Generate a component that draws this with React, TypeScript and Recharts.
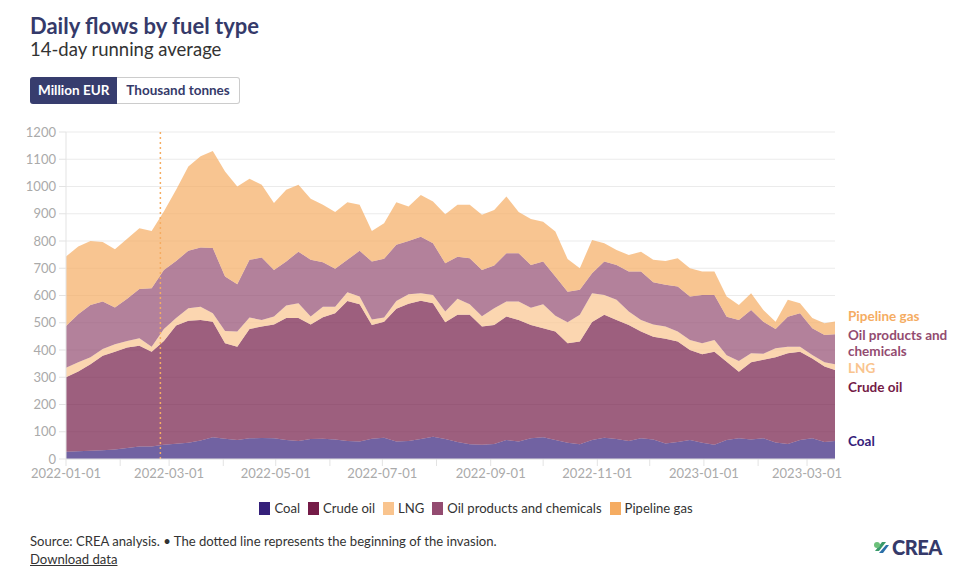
import {
  Area,
  AreaChart,
  CartesianGrid,
  ReferenceLine,
  XAxis,
  YAxis,
} from "recharts";

// weekly samples (million EUR per day, 14-day average)
const dates = [
  "2022-01-01", "2022-01-08", "2022-01-15", "2022-01-22", "2022-01-29", "2022-02-05", "2022-02-12", "2022-02-19",
  "2022-02-26", "2022-03-05", "2022-03-12", "2022-03-19", "2022-03-26", "2022-04-02", "2022-04-09", "2022-04-16",
  "2022-04-23", "2022-04-30", "2022-05-07", "2022-05-14", "2022-05-21", "2022-05-28", "2022-06-04", "2022-06-11",
  "2022-06-18", "2022-06-25", "2022-07-02", "2022-07-09", "2022-07-16", "2022-07-23", "2022-07-30", "2022-08-06",
  "2022-08-13", "2022-08-20", "2022-08-27", "2022-09-03", "2022-09-10", "2022-09-17", "2022-09-24", "2022-10-01",
  "2022-10-08", "2022-10-15", "2022-10-22", "2022-10-29", "2022-11-05", "2022-11-12", "2022-11-19", "2022-11-26",
  "2022-12-03", "2022-12-10", "2022-12-17", "2022-12-24", "2022-12-31", "2023-01-07", "2023-01-14", "2023-01-21",
  "2023-01-28", "2023-02-04", "2023-02-11", "2023-02-18", "2023-02-25", "2023-03-04", "2023-03-11", "2023-03-17",
];

const coal = [
  27, 28, 30, 32, 35, 40, 46, 46, 52, 56, 60, 68, 80, 74, 70, 76,
  77, 76, 70, 66, 73, 74, 72, 66, 64, 74, 78, 64, 66, 73, 82, 73,
  62, 54, 52, 55, 70, 64, 76, 80, 70, 60, 54, 70, 78, 73, 66, 76,
  72, 57, 62, 70, 60, 52, 70, 76, 72, 76, 61, 55, 70, 76, 62, 66,
];
const crudeOil = [
  273, 293, 318, 347, 359, 369, 370, 348, 381, 434, 447, 442, 424, 351, 342, 401,
  409, 418, 447, 451, 421, 446, 463, 514, 504, 418, 426, 487, 504, 508, 490, 429,
  467, 475, 434, 437, 453, 446, 416, 400, 398, 365, 377, 433, 451, 437, 426, 392,
  377, 384, 369, 330, 324, 342, 287, 244, 283, 288, 312, 333, 324, 293, 277, 261,
];
const lng = [
  35, 34, 25, 25, 27, 24, 27, 18, 44, 27, 46, 49, 31, 45, 56, 42,
  24, 29, 46, 55, 29, 39, 24, 32, 28, 20, 15, 29, 35, 27, 30, 39,
  59, 39, 38, 61, 55, 68, 63, 88, 58, 77, 98, 105, 73, 74, 49, 42,
  45, 45, 37, 37, 41, 43, 24, 40, 33, 22, 33, 24, 18, 13, 16, 21,
];
const oilProducts = [
  153, 176, 192, 174, 135, 155, 181, 215, 217, 210, 211, 217, 239, 200, 173, 212,
  229, 171, 162, 189, 208, 163, 139, 119, 168, 213, 216, 206, 195, 208, 190, 177,
  154, 169, 170, 157, 177, 177, 157, 157, 144, 112, 92, 74, 123, 128, 147, 178,
  155, 153, 165, 159, 177, 165, 141, 150, 159, 118, 71, 110, 123, 98, 100, 110,
];
const pipelineGas = [
  255, 249, 235, 218, 214, 220, 223, 210, 214, 261, 309, 335, 356, 385, 359, 297,
  267, 245, 263, 245, 224, 211, 208, 211, 169, 112, 130, 156, 127, 153, 153, 180,
  191, 196, 202, 204, 208, 151, 169, 146, 165, 120, 79, 122, 67, 55, 61, 73,
  82, 88, 104, 104, 86, 86, 74, 55, 61, 43, 27, 62, 37, 37, 43, 47,
];

const monthTicks = [
  "2022-01-01", "2022-02-01", "2022-03-01", "2022-04-01", "2022-05-01", "2022-06-01", "2022-07-01", "2022-08-01",
  "2022-09-01", "2022-10-01", "2022-11-01", "2022-12-01", "2023-01-01", "2023-02-01", "2023-03-01",
];
const labelledTicks = [
  "2022-01-01", "2022-03-01", "2022-05-01", "2022-07-01", "2022-09-01", "2022-11-01", "2023-01-01", "2023-03-01",
];
const yTicks = [0, 100, 200, 300, 400, 500, 600, 700, 800, 900, 1000, 1100, 1200];
const invasionDate = "2022-02-24";

const series = [
  { key: "coal", name: "Coal", color: "#35207a" },
  { key: "crudeOil", name: "Crude oil", color: "#741b47" },
  { key: "lng", name: "LNG", color: "#f9c48e" },
  { key: "oilProducts", name: "Oil products and chemicals", color: "#934b70" },
  { key: "pipelineGas", name: "Pipeline gas", color: "#f5ac62" },
];

const data = dates.map((d, i) => ({
  t: Date.parse(d),
  coal: coal[i],
  crudeOil: crudeOil[i],
  lng: lng[i],
  oilProducts: oilProducts[i],
  pipelineGas: pipelineGas[i],
}));

const FONT = "Lato, 'Source Sans Pro', sans-serif";
const NAVY = "#353a6a";

const fmtDate = (v: number) => {
  const s = new Date(v).toISOString().slice(0, 10);
  return labelledTicks.includes(s) ? s : "";
};

export default function App() {
  return (
    <div
      style={{
        position: "absolute",
        left: 0,
        top: 0,
        width: 960,
        height: 567,
        fontFamily: FONT,
        background: "#fff",
        color: "#333",
      }}
    >
      <div style={{ position: "absolute", left: 30, top: 12, fontSize: 22, fontWeight: 700, color: NAVY }}>
        Daily flows by fuel type
      </div>
      <div style={{ position: "absolute", left: 30, top: 38, fontSize: 18.5, color: "#333" }}>
        14-day running average
      </div>
      <div style={{ position: "absolute", left: 30, top: 77, display: "flex", fontSize: 13.5, fontWeight: 700 }}>
        <div
          style={{
            background: "#373d6e",
            color: "#fff",
            height: 27,
            lineHeight: "27px",
            padding: "0 8px",
            borderRadius: "3px 0 0 3px",
          }}
        >
          Million EUR
        </div>
        <div
          style={{
            color: NAVY,
            height: 25,
            lineHeight: "25px",
            padding: "0 9px",
            border: "1px solid #ccc",
            borderLeft: "none",
            borderRadius: "0 3px 3px 0",
          }}
        >
          Thousand tonnes
        </div>
      </div>

      <div style={{ position: "absolute", left: 0, top: 120 }}>
        <AreaChart width={960} height={380} data={data} margin={{ top: 12, right: 125, left: 0, bottom: 11 }}>
          <CartesianGrid vertical={false} stroke="#ebebeb" />
          <XAxis
            dataKey="t"
            type="number"
            domain={[Date.parse("2022-01-01"), Date.parse("2023-03-17")]}
            ticks={monthTicks.map((m) => Date.parse(m))}
            tickFormatter={fmtDate}
            interval={0}
            height={30}
            tickSize={7}
            tickMargin={3}
            tickLine={{ stroke: "#e3e3e3" }}
            axisLine={{ stroke: "#e3e3e3" }}
            tick={{ fontSize: 13, fill: "#aaa", fontFamily: FONT }}
          />
          <YAxis
            domain={[0, 1200]}
            ticks={yTicks}
            width={66}
            tickSize={7}
            tickMargin={3}
            tickLine={{ stroke: "#e3e3e3" }}
            axisLine={{ stroke: "#e3e3e3" }}
            tick={{ fontSize: 13, fill: "#aaa", fontFamily: FONT }}
          />
          {series.map((s) => (
            <Area
              key={s.key}
              dataKey={s.key}
              name={s.name}
              stackId="fuel"
              type="linear"
              stroke="none"
              fill={s.color}
              fillOpacity={0.7}
              isAnimationActive={false}
            />
          ))}
          <ReferenceLine
            x={Date.parse(invasionDate)}
            stroke="#f5ac62"
            strokeWidth={1.5}
            strokeDasharray="2 3"
          />
        </AreaChart>
      </div>

      {/* end-of-series labels */}
      <div style={{ position: "absolute", left: 848, top: 0, fontSize: 13.5, fontWeight: 700, lineHeight: "16px" }}>
        <div style={{ position: "absolute", top: 308, color: "#f5ac62", whiteSpace: "nowrap" }}>Pipeline gas</div>
        <div style={{ position: "absolute", top: 327, color: "#934b70", whiteSpace: "nowrap" }}>Oil products and</div>
        <div style={{ position: "absolute", top: 343, color: "#934b70", whiteSpace: "nowrap" }}>chemicals</div>
        <div style={{ position: "absolute", top: 360, color: "#f9c48e" }}>LNG</div>
        <div style={{ position: "absolute", top: 379, color: "#741b47", whiteSpace: "nowrap" }}>Crude oil</div>
        <div style={{ position: "absolute", top: 433, color: "#35207a" }}>Coal</div>
      </div>

      <div
        style={{
          position: "absolute",
          left: 0,
          width: 960,
          top: 500,
          display: "flex",
          justifyContent: "center",
          fontSize: 13.1,
          color: "#333",
        }}
      >
        {series.map((s) => (
          <div key={s.key} style={{ display: "flex", alignItems: "center", marginRight: 8 }}>
            <span style={{ width: 11, height: 13, background: s.color, marginRight: 4, display: "inline-block" }} />
            {s.name}
          </div>
        ))}
      </div>

      <div style={{ position: "absolute", left: 30, top: 532, fontSize: 13.1, color: "#333", lineHeight: "18px" }}>
        <div>Source: CREA analysis. • The dotted line represents the beginning of the invasion.</div>
        <div style={{ textDecoration: "underline" }}>Download data</div>
      </div>

      <div style={{ position: "absolute", left: 873, top: 535, display: "flex", alignItems: "center" }}>
        <svg width={17} height={17} viewBox="0 0 17 17">
          <path d="M2 12 L9 3 L13 3 L6 12 Z" fill="#3a9a6a" />
          <path d="M6 14 L13 6 L16 6 L10 14 Z" fill="#2a6fa8" />
          <circle cx={4} cy={6} r={3} fill="#6cc07a" />
        </svg>
        <span style={{ fontSize: 20, fontWeight: 900, color: NAVY, marginLeft: 2, letterSpacing: -0.5 }}>CREA</span>
      </div>
    </div>
  );
}
